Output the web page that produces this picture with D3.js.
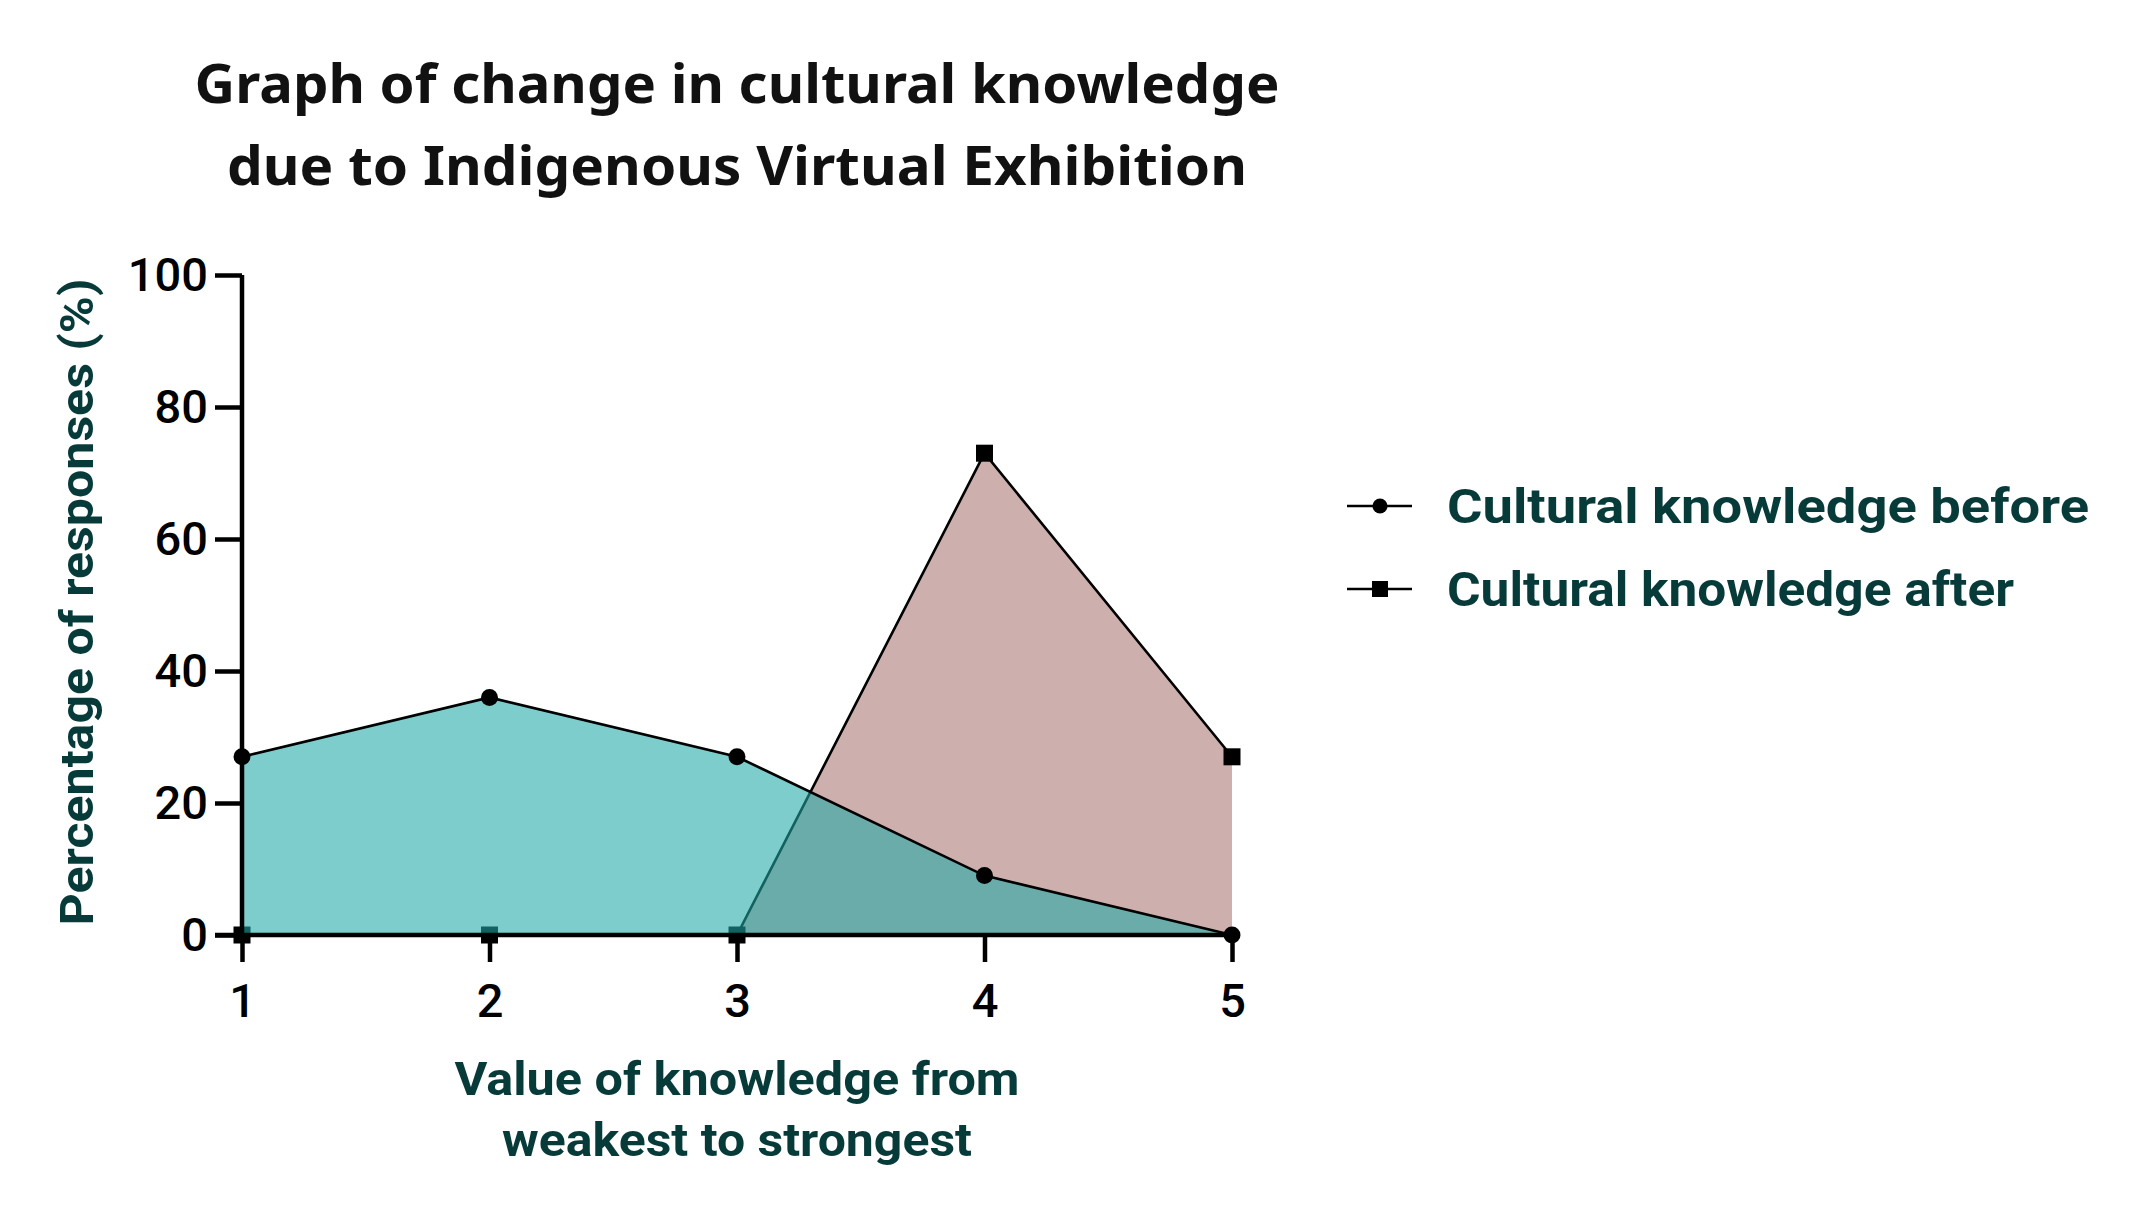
<!DOCTYPE html>
<html><head><meta charset="utf-8">
<script src="https://cdn.jsdelivr.net/npm/d3@7"></script>
<style>body{margin:0;background:#fff}</style>
</head><body>
<svg id="chart" width="2134" height="1214"></svg>
<script>
const categories = [1, 2, 3, 4, 5];
const before = [27, 36, 27, 9, 0];
const after = [0, 0, 0, 73, 27];
const yTicks = [0, 20, 40, 60, 80, 100];
const seriesNames = ["Cultural knowledge before", "Cultural knowledge after"];
const titleLines = ["Graph of change in cultural knowledge", "due to Indigenous Virtual Exhibition"];
const xTitleLines = ["Value of knowledge from", "weakest to strongest"];
const yTitle = "Percentage of responses (%)";

const svg = d3.select("#chart");
const x = d3.scaleLinear().domain([1, 5]).range([242, 1232]);
const y = d3.scaleLinear().domain([0, 100]).range([935, 275]);
const green = "#073b3a";

// title
svg.append("g").selectAll("text").data(titleLines).join("text")
  .attr("x", 737).attr("y", (d, i) => 103 + i * 82)
  .attr("text-anchor", "middle")
  .attr("font-family", "Noto Sans, sans-serif").attr("font-weight", 700)
  .attr("font-size", 53).attr("fill", "#111")
  .attr("textLength", (d, i) => i === 0 ? 1085 : 1020)
  .attr("lengthAdjust", "spacingAndGlyphs")
  .text(d => d);

const area = d3.area().x((d, i) => x(categories[i])).y0(y(0)).y1(d => y(d));
const line = d3.line().x((d, i) => x(categories[i])).y(d => y(d));

// after series (underneath)
svg.append("path").datum(after).attr("d", area).attr("fill", "#cdb0ad");
svg.append("path").datum(after).attr("d", line).attr("fill", "none").attr("stroke", "#000").attr("stroke-width", 2.6);
const sq = 17;
svg.append("g").selectAll("rect").data(after).join("rect")
  .attr("x", (d, i) => x(categories[i]) - sq / 2).attr("y", d => y(d) - sq / 2)
  .attr("width", sq).attr("height", sq).attr("fill", "#000");

// before series area overlay (translucent teal)
svg.append("path").datum(before).attr("d", area).attr("fill", "rgb(33,169,169)").attr("fill-opacity", 0.58);
svg.append("path").datum(before).attr("d", line).attr("fill", "none").attr("stroke", "#000").attr("stroke-width", 2.6);
svg.append("g").selectAll("circle").data(before).join("circle")
  .attr("cx", (d, i) => x(categories[i])).attr("cy", d => y(d)).attr("r", 8.5).attr("fill", "#000");

// axes
const yAxis = d3.axisLeft(y).tickValues(yTicks).tickSize(27).tickPadding(7).tickFormat(d3.format("d"));
const gy = svg.append("g").attr("transform", "translate(242,0)").call(yAxis);
const xAxis = d3.axisBottom(x).tickValues(categories).tickSize(27).tickPadding(22).tickFormat(d3.format("d"));
const gx = svg.append("g").attr("transform", `translate(0,${y(0)})`).call(xAxis);
[gx, gy].forEach(g => {
  g.select(".domain").attr("stroke", "#000").attr("stroke-width", 4.5);
  g.selectAll(".tick line").attr("stroke", "#000").attr("stroke-width", 4.5);
  g.selectAll(".tick text").attr("fill", "#000").attr("font-family", "Roboto, sans-serif")
    .attr("font-weight", 500).attr("font-size", 47);
});
gy.select(".domain").attr("d", "M0,275V935");
gx.select(".domain").attr("d", `M${242 - 27},0H1232`);

// axis titles
svg.append("g").selectAll("text").data(xTitleLines).join("text")
  .attr("x", 737).attr("y", (d, i) => 1095 + i * 61)
  .attr("text-anchor", "middle").attr("fill", green)
  .attr("font-family", "Roboto, sans-serif").attr("font-weight", 700).attr("font-size", 47)
  .attr("textLength", (d, i) => i === 0 ? 565 : 470)
  .attr("lengthAdjust", "spacingAndGlyphs")
  .text(d => d);
svg.append("text")
  .attr("transform", "translate(93,602) rotate(-90)")
  .attr("text-anchor", "middle").attr("fill", green)
  .attr("font-family", "Roboto, sans-serif").attr("font-weight", 700).attr("font-size", 47)
  .attr("textLength", 647).attr("lengthAdjust", "spacingAndGlyphs")
  .text(yTitle);

// legend
const leg = svg.append("g").selectAll("g").data(seriesNames).join("g")
  .attr("transform", (d, i) => `translate(0,${506 + i * 83})`);
leg.append("line").attr("x1", 1347).attr("x2", 1412).attr("y1", 0).attr("y2", 0)
  .attr("stroke", "#000").attr("stroke-width", 2.6);
leg.filter((d, i) => i === 0).append("circle").attr("cx", 1380).attr("cy", 0).attr("r", 7.5).attr("fill", "#000");
leg.filter((d, i) => i === 1).append("rect").attr("x", 1372).attr("y", -8).attr("width", 16).attr("height", 16).attr("fill", "#000");
leg.append("text").attr("x", 1447).attr("y", 17).attr("fill", green)
  .attr("font-family", "Roboto, sans-serif").attr("font-weight", 700).attr("font-size", 49)
  .attr("textLength", (d, i) => i === 0 ? 642 : 567).attr("lengthAdjust", "spacingAndGlyphs")
  .text(d => d);
</script>
</body></html>
